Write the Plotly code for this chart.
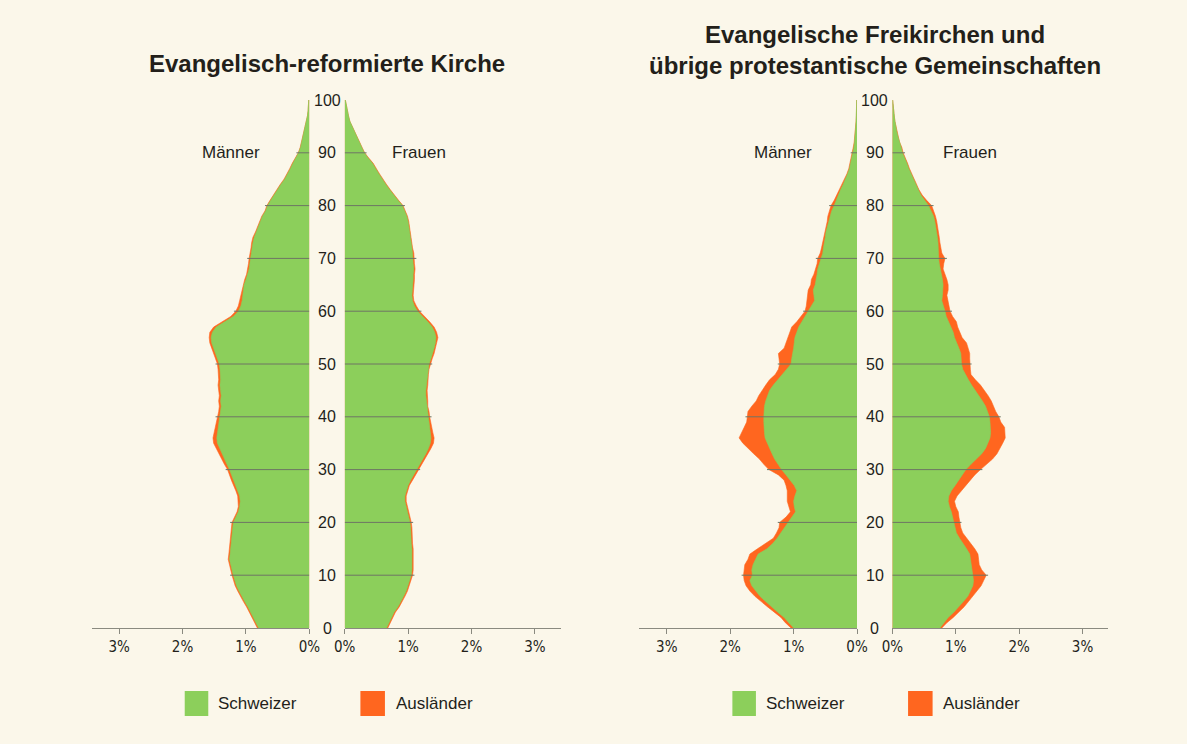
import plotly.graph_objects as go

# ---------------- data (share of population in %, by single year of age 0..100) ----------------
ages = list(range(0, 101))

# Evangelisch-reformierte Kirche
ref_men_ch = [0.80, 0.84, 0.88, 0.92, 0.97, 1.02, 1.07, 1.11, 1.15, 1.18,
              1.20, 1.22, 1.24, 1.26, 1.25, 1.24, 1.23, 1.23, 1.22, 1.21,
              1.20, 1.16, 1.12, 1.10, 1.09, 1.10, 1.13, 1.17, 1.20, 1.23,
              1.26, 1.30, 1.34, 1.38, 1.42, 1.45, 1.46, 1.45, 1.44, 1.42,
              1.41, 1.40, 1.39, 1.40, 1.39, 1.40, 1.41, 1.40, 1.40, 1.41,
              1.42, 1.45, 1.48, 1.51, 1.54, 1.55, 1.53, 1.47, 1.34, 1.20,
              1.12, 1.08, 1.06, 1.05, 1.04, 1.03, 1.00, 0.97, 0.95, 0.94,
              0.93, 0.91, 0.90, 0.89, 0.87, 0.84, 0.81, 0.78, 0.74, 0.69,
              0.66, 0.61, 0.56, 0.51, 0.45, 0.39, 0.34, 0.30, 0.26, 0.21,
              0.17, 0.14, 0.12, 0.10, 0.08, 0.06, 0.05, 0.03, 0.02, 0.015,
              0.01]
ref_men_au = [0.02, 0.02, 0.02, 0.02, 0.02, 0.02, 0.02, 0.02, 0.02, 0.02,
              0.02, 0.02, 0.02, 0.02, 0.02, 0.02, 0.02, 0.02, 0.02, 0.02,
              0.02, 0.02, 0.02, 0.02, 0.03, 0.03, 0.03, 0.03, 0.03, 0.03,
              0.03, 0.04, 0.04, 0.05, 0.05, 0.06, 0.06, 0.05, 0.05, 0.04,
              0.04, 0.03, 0.03, 0.03, 0.03, 0.03, 0.03, 0.03, 0.03, 0.03,
              0.03, 0.03, 0.03, 0.03, 0.03, 0.03, 0.04, 0.04, 0.04, 0.04,
              0.04, 0.04, 0.04, 0.03, 0.03, 0.02, 0.02, 0.02, 0.02, 0.02,
              0.02, 0.02, 0.02, 0.02, 0.02, 0.01, 0.01, 0.01, 0.01, 0.01,
              0.01, 0.01, 0.01, 0.01, 0.01, 0.01, 0.01, 0.01, 0.01, 0.01,
              0.005, 0.005, 0.005, 0.005, 0.005, 0.005, 0.0, 0.0, 0.0, 0.0,
              0.0]
ref_women_ch = [0.66, 0.70, 0.74, 0.78, 0.84, 0.89, 0.93, 0.97, 1.00, 1.03,
                1.05, 1.06, 1.06, 1.07, 1.06, 1.06, 1.05, 1.05, 1.04, 1.04,
                1.03, 1.01, 0.99, 0.97, 0.95, 0.95, 0.97, 1.00, 1.04, 1.09,
                1.13, 1.18, 1.23, 1.28, 1.32, 1.35, 1.36, 1.35, 1.33, 1.32,
                1.31, 1.30, 1.29, 1.29, 1.28, 1.28, 1.29, 1.29, 1.30, 1.31,
                1.33, 1.36, 1.39, 1.41, 1.43, 1.44, 1.42, 1.38, 1.31, 1.23,
                1.15, 1.10, 1.07, 1.06, 1.07, 1.08, 1.08, 1.08, 1.09, 1.08,
                1.08, 1.07, 1.06, 1.05, 1.04, 1.03, 1.02, 1.00, 0.98, 0.95,
                0.91, 0.84, 0.77, 0.71, 0.65, 0.59, 0.54, 0.49, 0.44, 0.37,
                0.31, 0.27, 0.23, 0.19, 0.15, 0.11, 0.08, 0.06, 0.04, 0.02,
                0.01]
ref_women_au = [0.02, 0.02, 0.02, 0.02, 0.02, 0.02, 0.02, 0.02, 0.02, 0.02,
                0.02, 0.02, 0.02, 0.02, 0.02, 0.02, 0.02, 0.02, 0.02, 0.02,
                0.02, 0.02, 0.02, 0.02, 0.02, 0.02, 0.02, 0.02, 0.03, 0.03,
                0.03, 0.03, 0.04, 0.04, 0.04, 0.05, 0.05, 0.04, 0.04, 0.03,
                0.03, 0.03, 0.02, 0.02, 0.02, 0.02, 0.02, 0.02, 0.02, 0.02,
                0.02, 0.02, 0.02, 0.02, 0.03, 0.03, 0.03, 0.03, 0.03, 0.03,
                0.03, 0.03, 0.02, 0.02, 0.02, 0.02, 0.02, 0.02, 0.02, 0.02,
                0.02, 0.02, 0.01, 0.01, 0.01, 0.01, 0.01, 0.01, 0.01, 0.01,
                0.01, 0.01, 0.01, 0.01, 0.01, 0.01, 0.01, 0.01, 0.01, 0.01,
                0.005, 0.005, 0.005, 0.005, 0.005, 0.005, 0.0, 0.0, 0.0, 0.0,
                0.0]

# Evangelische Freikirchen und übrige protestantische Gemeinschaften
fk_men_ch = [1.00, 1.08, 1.15, 1.25, 1.35, 1.44, 1.53, 1.60, 1.66, 1.69,
             1.65, 1.66, 1.64, 1.60, 1.56, 1.42, 1.33, 1.26, 1.20, 1.15,
             1.08, 1.02, 0.97, 0.99, 1.00, 0.98, 0.95, 0.99, 1.05, 1.12,
             1.19, 1.25, 1.30, 1.34, 1.38, 1.42, 1.45, 1.46, 1.47, 1.47,
             1.47, 1.47, 1.46, 1.44, 1.41, 1.38, 1.32, 1.25, 1.17, 1.10,
             1.04, 1.03, 1.01, 1.00, 0.99, 0.98, 0.95, 0.92, 0.87, 0.82,
             0.77, 0.72, 0.67, 0.68, 0.69, 0.66, 0.64, 0.63, 0.62, 0.59,
             0.56, 0.54, 0.53, 0.51, 0.50, 0.49, 0.47, 0.45, 0.43, 0.40,
             0.36, 0.33, 0.30, 0.26, 0.22, 0.18, 0.15, 0.12, 0.10, 0.08,
             0.06, 0.05, 0.04, 0.03, 0.025, 0.02, 0.015, 0.01, 0.01, 0.005,
             0.005]
fk_men_au = [0.04, 0.05, 0.05, 0.06, 0.06, 0.07, 0.08, 0.09, 0.09, 0.09,
             0.14, 0.12, 0.13, 0.12, 0.13, 0.15, 0.12, 0.06, 0.07, 0.08,
             0.14, 0.10, 0.08, 0.09, 0.10, 0.12, 0.15, 0.13, 0.10, 0.12,
             0.20, 0.22, 0.24, 0.29, 0.33, 0.38, 0.41, 0.36, 0.30, 0.27,
             0.26, 0.25, 0.20, 0.15, 0.14, 0.12, 0.12, 0.13, 0.12, 0.14,
             0.18, 0.20, 0.23, 0.15, 0.13, 0.12, 0.12, 0.11, 0.08, 0.06,
             0.05, 0.08, 0.12, 0.09, 0.08, 0.07, 0.08, 0.05, 0.03, 0.04,
             0.06, 0.04, 0.03, 0.03, 0.02, 0.02, 0.02, 0.02, 0.03, 0.04,
             0.05, 0.03, 0.02, 0.01, 0.01, 0.01, 0.01, 0.01, 0.01, 0.01,
             0.01, 0.01, 0.005, 0.005, 0.005, 0.005, 0.0, 0.0, 0.0, 0.0,
             0.0]
fk_women_ch = [0.75, 0.81, 0.88, 0.97, 1.05, 1.12, 1.19, 1.23, 1.27, 1.28,
               1.27, 1.26, 1.24, 1.23, 1.22, 1.17, 1.11, 1.06, 1.01, 0.99,
               0.98, 0.96, 0.93, 0.90, 0.88, 0.89, 0.93, 0.99, 1.05, 1.10,
               1.16, 1.24, 1.32, 1.41, 1.47, 1.51, 1.54, 1.55, 1.55, 1.54,
               1.53, 1.50, 1.47, 1.42, 1.36, 1.30, 1.25, 1.20, 1.15, 1.11,
               1.09, 1.08, 1.08, 1.05, 1.01, 0.98, 0.96, 0.92, 0.88, 0.85,
               0.83, 0.80, 0.78, 0.79, 0.80, 0.80, 0.79, 0.77, 0.75, 0.74,
               0.73, 0.73, 0.72, 0.72, 0.71, 0.70, 0.69, 0.67, 0.65, 0.61,
               0.57, 0.51, 0.45, 0.41, 0.37, 0.34, 0.30, 0.26, 0.23, 0.19,
               0.16, 0.14, 0.11, 0.09, 0.07, 0.05, 0.04, 0.03, 0.02, 0.01,
               0.005]
fk_women_au = [0.03, 0.05, 0.08, 0.08, 0.08, 0.08, 0.08, 0.10, 0.13, 0.16,
               0.21, 0.15, 0.13, 0.13, 0.13, 0.13, 0.13, 0.11, 0.10, 0.09,
               0.08, 0.09, 0.11, 0.10, 0.10, 0.13, 0.16, 0.17, 0.17, 0.20,
               0.23, 0.24, 0.26, 0.24, 0.23, 0.23, 0.24, 0.23, 0.22, 0.17,
               0.15, 0.13, 0.13, 0.14, 0.15, 0.15, 0.14, 0.11, 0.09, 0.12,
               0.13, 0.14, 0.14, 0.15, 0.16, 0.12, 0.10, 0.11, 0.13, 0.10,
               0.08, 0.09, 0.10, 0.07, 0.08, 0.08, 0.07, 0.06, 0.05, 0.07,
               0.10, 0.05, 0.04, 0.03, 0.03, 0.03, 0.02, 0.03, 0.03, 0.04,
               0.05, 0.03, 0.02, 0.01, 0.01, 0.01, 0.01, 0.01, 0.01, 0.01,
               0.01, 0.01, 0.005, 0.005, 0.005, 0.005, 0.0, 0.0, 0.0, 0.0,
               0.0]

panel_titles = ["<b>Evangelisch-reformierte Kirche</b>",
                "<b>Evangelische Freikirchen und<br>übrige protestantische Gemeinschaften</b>"]
side_labels = ["Männer", "Frauen"]
legend_labels = ["Schweizer", "Ausländer"]
age_ticks = [0, 10, 20, 30, 40, 50, 60, 70, 80, 90, 100]
pct_tickvals = [0, 1, 2, 3]
pct_ticktext = ["0%", "1%", "2%", "3%"]

# ---------------- style ----------------
W, H = 1187, 744
BG = "#FBF7EA"
GREEN = "#8CCF5B"
ORANGE = "#FF661F"
GRID = "#6E7565"
AXIS = "#8A8A80"
TXT = "#231F1A"
FONT = "Liberation Sans, Arial, sans-serif"
NARROW = "Liberation Sans Narrow, Arial Narrow, DejaVu Sans Condensed, Liberation Sans, sans-serif"

def px(x):
    return x / W

def py(y):
    return 1 - y / H

# x domains (pixels) for the four half-pyramids
half_px = [(83, 304), (340, 560), (640, 862), (898, 1118)]
one_pct = 64.6
y_dom = [py(628), py(100)]

fig = go.Figure()

series = [
    (ref_men_ch, ref_men_au),
    (ref_women_ch, ref_women_au),
    (fk_men_ch, fk_men_au),
    (fk_women_ch, fk_women_au),
]

for i, (ch, au) in enumerate(series):
    ax = "" if i == 0 else str(i + 1)
    xa, ya = "x" + ax, "y" + ax
    total = [c + a for c, a in zip(ch, au)]
    fig.add_trace(go.Scatter(x=total, y=ages, xaxis=xa, yaxis=ya, mode="lines",
                             fill="tozerox", fillcolor=ORANGE,
                             line=dict(color=ORANGE, width=0.6),
                             hoverinfo="skip", showlegend=False))
    fig.add_trace(go.Scatter(x=ch, y=ages, xaxis=xa, yaxis=ya, mode="lines",
                             fill="tozerox", fillcolor=GREEN,
                             line=dict(color=GREEN, width=0.6),
                             hoverinfo="skip", showlegend=False))
    # decade lines across the bars
    for a in age_ticks[1:-1]:
        fig.add_trace(go.Scatter(x=[0, total[a] + 0.03], y=[a, a], xaxis=xa, yaxis=ya,
                                 mode="lines", line=dict(color=GRID, width=1),
                                 hoverinfo="skip", showlegend=False))

    x0, x1 = half_px[i]
    span = (x1 - x0) / one_pct
    is_men = (i % 2 == 0)
    xaxis = dict(domain=[px(x0), px(x1)],
                 range=[span, 0] if is_men else [0, span],
                 anchor=ya, showgrid=False, zeroline=False,
                 showline=True, linecolor=AXIS, linewidth=1,
                 ticks="outside", ticklen=5, tickcolor=AXIS, tickwidth=1,
                 tickvals=pct_tickvals, ticktext=pct_ticktext,
                 tickfont=dict(family=NARROW, size=15, color=TXT),
                 fixedrange=True)
    yaxis = dict(domain=y_dom, range=[0, 100], anchor=xa, visible=False,
                 fixedrange=True)
    fig.layout["xaxis" + ax] = xaxis
    fig.layout["yaxis" + ax] = yaxis

annotations = []
# age labels in the gap of each pyramid
for p in range(2):
    gx = (half_px[2 * p][1] + half_px[2 * p + 1][0]) / 2
    for a in age_ticks:
        annotations.append(dict(x=px(gx), xref="paper", y=a, yref="y" + ("" if p == 0 else "3"),
                                text=str(a), showarrow=False, xanchor="center", yanchor="middle",
                                font=dict(family=FONT, size=16, color=TXT)))

# Männer / Frauen labels
label_pos = [(1.24, "x", "y"), (1.17, "x2", "y2"), (1.16, "x3", "y3"), (1.22, "x4", "y4")]
for i, (xv, xr, yr) in enumerate(label_pos):
    annotations.append(dict(x=xv, xref=xr, y=90, yref=yr, text=side_labels[i % 2],
                            showarrow=False, xanchor="center", yanchor="middle",
                            font=dict(family=FONT, size=17, color=TXT)))

# titles
annotations.append(dict(x=px(322), xref="paper", y=py(63), yref="paper", text=panel_titles[0],
                        showarrow=False, xanchor="center", yanchor="middle",
                        font=dict(family=FONT, size=24, color=TXT)))
annotations.append(dict(x=px(880), xref="paper", y=py(50), yref="paper", text=panel_titles[1],
                        showarrow=False, xanchor="center", yanchor="middle",
                        font=dict(family=FONT, size=24, color=TXT)))

# legends (one under each pyramid)
shapes = []
for off in (0, 558):
    for (sx0, sx1, col, tx, lab) in [(177, 201, GREEN, 209, legend_labels[0]),
                                     (356, 381, ORANGE, 390, legend_labels[1])]:
        shapes.append(dict(type="rect", xref="paper", yref="paper",
                           x0=px(sx0 + off), x1=px(sx1 + off), y0=py(716), y1=py(691),
                           fillcolor=col, line=dict(width=0)))
        annotations.append(dict(x=px(tx + off), xref="paper", y=py(703), yref="paper",
                                text=lab, showarrow=False, xanchor="left", yanchor="middle",
                                font=dict(family=FONT, size=17, color=TXT)))

fig.update_layout(width=W, height=H, autosize=False, margin=dict(l=0, r=0, t=0, b=0),
                  paper_bgcolor=BG, plot_bgcolor=BG,
                  annotations=annotations, shapes=shapes, showlegend=False)

post = (
    "document.documentElement.style.margin='0';"
    "document.documentElement.style.padding='0';"
    "document.documentElement.style.overflow='hidden';"
    "document.body.style.margin='0';"
    "document.body.style.padding='0';"
    "document.body.style.overflow='hidden';"
    "document.body.style.background='#FBF7EA';"
)

fig.write_html("out.html",
               config={"responsive": False, "displayModeBar": False, "staticPlot": True},
               post_script=post)
